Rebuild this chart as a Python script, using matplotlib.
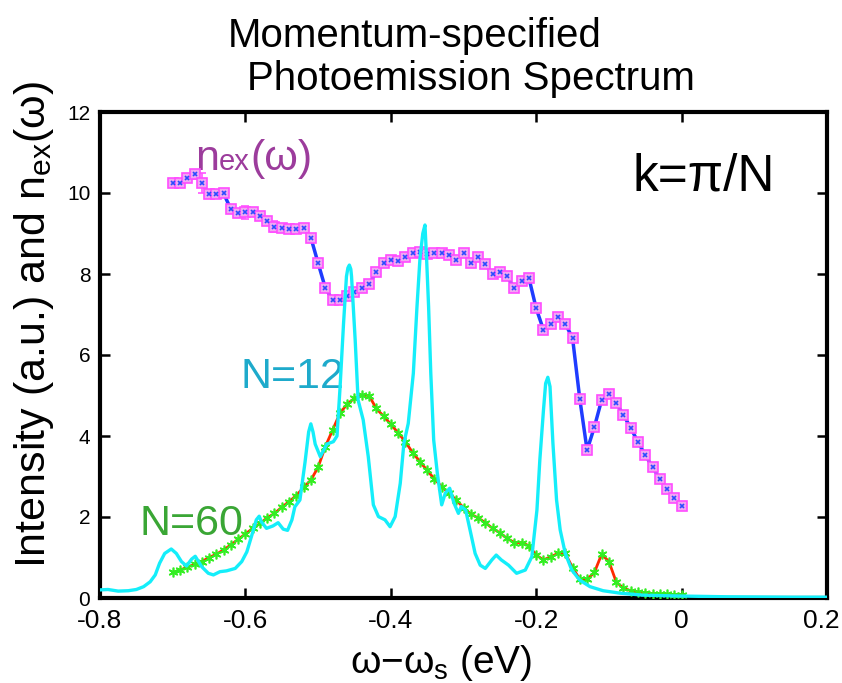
import matplotlib
matplotlib.use("Agg")
import matplotlib.pyplot as plt
from matplotlib.transforms import ScaledTranslation
from matplotlib.offsetbox import TextArea, HPacker, AnnotationBbox

plt.rcParams['font.family'] = ['Liberation Sans', 'DejaVu Sans']
plt.rcParams['mathtext.default'] = 'regular'
plt.rcParams['axes.unicode_minus'] = False

# n_ex(omega), points every 0.01 eV from -0.70 to 0.00
nex_x = [round(-0.70 + 0.01 * i, 2) for i in range(71)]
nex_y = [10.25, 10.25, 10.38, 10.46, 10.24, 9.98, 9.97, 9.99, 9.60, 9.50,
         9.52, 9.54, 9.44, 9.31, 9.17, 9.13, 9.11, 9.11, 9.14, 8.90,
         8.27, 7.65, 7.36, 7.37, 7.46, 7.55, 7.65, 7.75, 8.04, 8.26,
         8.35, 8.33, 8.43, 8.51, 8.54, 8.49, 8.51, 8.51, 8.47, 8.35,
         8.51, 8.28, 8.41, 8.24, 8.00, 8.04, 7.94, 7.65, 7.83, 7.90,
         7.15, 6.62, 6.77, 6.94, 6.77, 6.42, 4.91, 3.65, 4.22, 4.89,
         5.04, 4.82, 4.52, 4.20, 3.85, 3.53, 3.23, 2.94, 2.68, 2.47,
         2.27]
nex_err = [0.05, 0.05, 0.08, 0.12, 0.25, 0.05, 0.05, 0.05, 0.05, 0.05,
           0.15, 0.05, 0.05, 0.05, 0.13, 0.05, 0.05, 0.05, 0.05, 0.05,
           0.05, 0.05, 0.05, 0.05, 0.05, 0.05, 0.05, 0.05, 0.05, 0.05,
           0.05, 0.05, 0.05, 0.05, 0.05, 0.05, 0.05, 0.05, 0.05, 0.05,
           0.05, 0.05, 0.05, 0.05, 0.05, 0.05, 0.05, 0.05, 0.05, 0.05,
           0.05, 0.05, 0.05, 0.05, 0.05, 0.05, 0.05, 0.05, 0.05, 0.05,
           0.05, 0.05, 0.05, 0.05, 0.05, 0.05, 0.05, 0.05, 0.05, 0.05,
           0.05]

# N=60 spectrum, same grid
n60_x = nex_x
n60_y = [0.63, 0.69, 0.76, 0.83, 0.90, 1.00, 1.08, 1.19, 1.31, 1.45,
         1.58, 1.72, 1.84, 1.98, 2.09, 2.24, 2.38, 2.53, 2.73, 2.91,
         3.23, 3.74, 4.15, 4.56, 4.79, 4.93, 5.01, 5.00, 4.68, 4.49,
         4.29, 4.08, 3.86, 3.59, 3.37, 3.15, 2.94, 2.75, 2.59, 2.42,
         2.23, 2.07, 1.98, 1.86, 1.72, 1.61, 1.47, 1.37, 1.37, 1.29,
         1.06, 0.94, 1.02, 1.10, 1.10, 0.75, 0.46, 0.46, 0.63, 1.08,
         0.90, 0.40, 0.24, 0.18, 0.15, 0.13, 0.11, 0.10, 0.09, 0.08,
         0.08]

# N=12 spectrum (continuous curve)
n12_x = [-0.800, -0.789, -0.775, -0.761, -0.750, -0.740, -0.731, -0.724, -0.718, -0.711,
         -0.702, -0.695, -0.688, -0.681, -0.674, -0.669, -0.660, -0.651, -0.644, -0.635,
         -0.626, -0.614, -0.605, -0.598, -0.591, -0.585, -0.581, -0.578, -0.571, -0.562,
         -0.555, -0.548, -0.542, -0.536, -0.532, -0.525, -0.518, -0.513, -0.510, -0.507,
         -0.504, -0.497, -0.488, -0.479, -0.474, -0.470, -0.465, -0.461, -0.459, -0.457,
         -0.455, -0.454, -0.449, -0.445, -0.438, -0.431, -0.424, -0.417, -0.408, -0.401,
         -0.394, -0.387, -0.382, -0.376, -0.369, -0.364, -0.360, -0.356, -0.353, -0.3507,
         -0.348, -0.345, -0.341, -0.336, -0.330, -0.325, -0.319, -0.313, -0.307, -0.303,
         -0.297, -0.291, -0.284, -0.277, -0.270, -0.261, -0.255, -0.248, -0.238, -0.227,
         -0.215, -0.206, -0.199, -0.195, -0.190, -0.187, -0.184, -0.181, -0.177, -0.172,
         -0.167, -0.160, -0.151, -0.140, -0.126, -0.108, -0.085, -0.053, -0.007, 0.062,
         0.154, 0.200]
n12_y = [0.20, 0.21, 0.17, 0.18, 0.21, 0.28, 0.40, 0.57, 0.86, 1.10,
         1.21, 1.10, 0.90, 0.79, 0.96, 1.03, 0.77, 0.61, 0.57, 0.65,
         0.67, 0.73, 0.90, 1.14, 1.56, 1.93, 2.02, 1.88, 1.72, 1.78,
         1.86, 1.70, 1.67, 1.93, 2.25, 2.42, 3.35, 4.10, 4.30, 4.10,
         3.80, 3.49, 3.80, 3.86, 4.00, 5.14, 6.78, 7.94, 8.15, 8.22,
         8.12, 7.94, 6.37, 4.89, 4.40, 3.49, 2.30, 2.01, 1.93, 1.76,
         2.01, 2.83, 3.82, 4.31, 5.55, 7.19, 8.35, 9.00, 9.21, 8.35,
         7.19, 5.55, 3.90, 3.08, 2.30, 2.59, 2.71, 2.34, 2.09, 2.26,
         2.17, 1.68, 1.10, 0.81, 0.73, 0.94, 1.06, 0.94, 0.81, 0.61,
         0.69, 1.02, 2.17, 3.41, 4.64, 5.30, 5.45, 5.22, 3.82, 2.42,
         1.68, 1.10, 0.69, 0.44, 0.28, 0.18, 0.12, 0.07, 0.05, 0.03,
         0.02, 0.02]

xticks = [-0.8, -0.6, -0.4, -0.2, 0, 0.2]
xticklabels = ['-0.8', '-0.6', '-0.4', '-0.2', '0', '0.2']
yticks = [0, 2, 4, 6, 8, 10, 12]

fig = plt.figure(figsize=(8.42, 6.83), dpi=100)
ax = fig.add_axes([100 / 842, 1 - 598 / 683, 727 / 842, 486 / 683])

# N=60: red line with green asterisks
ax.plot(n60_x, n60_y, color='#ff2a00', lw=2, zorder=3)
ax.plot(n60_x, n60_y, ls='none', marker=(6, 2, 0), ms=7, mec='#33ee22', mew=1.2, zorder=4)

# n_ex: blue line, pink square points with error bars
ax.errorbar(nex_x, nex_y, yerr=nex_err, fmt='none', ecolor='#ff55ff', elinewidth=1.2,
            capsize=3, capthick=1.2, zorder=4)
ax.plot(nex_x, nex_y, color='#1f3cff', lw=2.5, zorder=5)
ax.plot(nex_x, nex_y, ls='none', marker='s', ms=6.5, mfc='#f2a6f2', mec='#ff4cff', mew=1.2, zorder=6)
ax.plot(nex_x, nex_y, ls='none', marker='x', ms=3.5, mec='#2a4cff', mew=1.2, zorder=7)

# N=12: cyan curve
ax.plot(n12_x, n12_y, color='#14eefa', lw=2.4, zorder=8)

ax.set_xlim(-0.8, 0.2)
ax.set_ylim(0, 12)
ax.set_xticks(xticks)
ax.set_xticklabels(xticklabels)
ax.set_yticks(yticks)
ax.tick_params(direction='in', length=7, width=1.8, top=True, right=True)
ax.tick_params(axis='x', labelsize=19, pad=8)
ax.tick_params(axis='y', labelsize=15, pad=7)
for s in ax.spines.values():
    s.set_linewidth(3)

# the last label sits at the very edge, nudge it a little to the left
dernier = ax.get_xticklabels()[-1]
dernier.set_transform(dernier.get_transform() + ScaledTranslation(-6 / 100, 0, fig.dpi_scale_trans))

# labels
fig.text(0.040, 0.525, r'Intensity (a.u.) and n$_{ex}$(ω)', rotation=90,
         ha='center', va='center', fontsize=31)
fig.text(0.524, 0.030, r'ω−ω$_{s}$ (eV)', ha='center', va='center', fontsize=28)

fig.text(228 / 842, 1 - 47 / 683, 'Momentum-specified', fontsize=29, ha='left', va='baseline')
fig.text(247 / 842, 1 - 90 / 683, 'Photoemission Spectrum', fontsize=29, ha='left', va='baseline')

ax.text(-0.068, 10.07, 'k=π/N', fontsize=37, ha='left', va='baseline')
ax.text(-0.607, 5.19, 'N=12', fontsize=31, color='#1eaacb', ha='left', va='baseline')
ax.text(-0.745, 1.56, 'N=60', fontsize=31, color='#3aa635', ha='left', va='baseline')

purple = '#9c3c9c'
lab = HPacker(children=[TextArea('n', textprops=dict(size=31, color=purple)),
                        TextArea('ex', textprops=dict(size=21, color=purple)),
                        TextArea('(ω)', textprops=dict(size=31, color=purple))],
              align='baseline', pad=0, sep=0)
ab = AnnotationBbox(lab, (-0.669, 10.35), box_alignment=(0, 0), frameon=False, pad=0)
ax.add_artist(ab)

fig.savefig('out.png', dpi=100)
